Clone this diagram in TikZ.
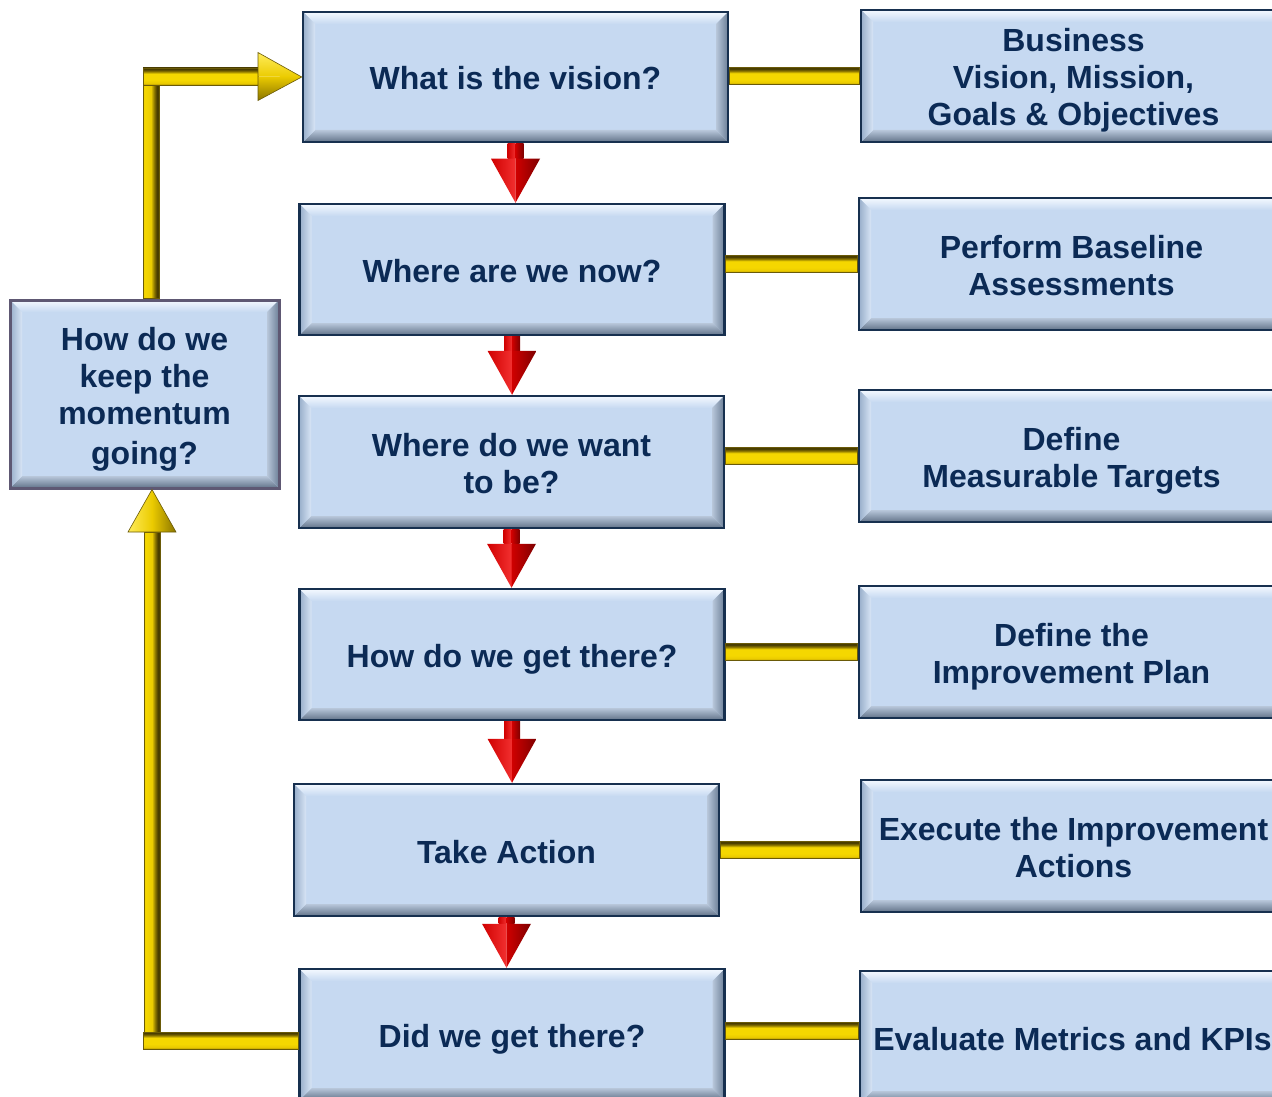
\documentclass[tikz,border=0pt]{standalone}
\usepackage{fontspec}
\setmainfont{Liberation Sans}
\usetikzlibrary{calc}

\definecolor{boxfill}{HTML}{C6D9F1}
\definecolor{boxline}{HTML}{17304F}
\definecolor{loopline}{HTML}{5E5873}
\definecolor{txt}{HTML}{0B2A55}
\definecolor{bvhi}{HTML}{F4F9FF}
\definecolor{bvlo}{HTML}{627389}
\definecolor{bvleft}{HTML}{98AECA}
\definecolor{bvright}{HTML}{6C7F97}
\definecolor{goldhi}{HTML}{FFEC5A}
\definecolor{goldmid}{HTML}{EBCB00}
\definecolor{goldbright}{HTML}{F5D700}
\definecolor{goldlow}{HTML}{B89A00}
\definecolor{golddk}{HTML}{8A7400}
\definecolor{goldshadow}{HTML}{4A3D00}
\definecolor{goldedge}{HTML}{6A5A08}
\definecolor{redhi}{HTML}{F23030}
\definecolor{redmid}{HTML}{D00000}
\definecolor{reddk}{HTML}{7E0000}

% bar shadings: a dark top edge over a bright face, and a bright face with a dark right edge
\pgfdeclareverticalshading{goldbarflat}{100bp}{%
  color(0bp)=(goldlow); color(25bp)=(goldlow); color(31bp)=(goldmid);
  color(40bp)=(goldbright); color(58bp)=(goldbright); color(65bp)=(golddk);
  color(71bp)=(goldshadow); color(100bp)=(goldshadow)}
\pgfdeclarehorizontalshading{goldbarupright}{100bp}{%
  color(0bp)=(goldmid); color(25bp)=(goldmid); color(30bp)=(goldbright);
  color(50bp)=(goldmid); color(60bp)=(golddk); color(68bp)=(goldshadow);
  color(100bp)=(goldshadow)}

\newcommand\hiStrut{\rule{0pt}{33pt}}
\newcommand\loStrut{\rule[-7pt]{0pt}{7pt}}

\tikzset{
  bevelbox/.style={draw=boxline, line width=2.5pt, fill=boxfill, text=txt,
    font=\bfseries\fontsize{32}{37}\selectfont, align=center, inner sep=0pt,
    minimum width=425pt, minimum height=131pt,
    path picture={
      \coordinate (nw) at (path picture bounding box.north west);
      \coordinate (ne) at (path picture bounding box.north east);
      \coordinate (sw) at (path picture bounding box.south west);
      \coordinate (se) at (path picture bounding box.south east);
      \shade[top color=bvhi, bottom color=boxfill]
        (nw) -- (ne) -- ([shift={(-12pt,-12pt)}]ne) -- ([shift={(12pt,-12pt)}]nw) -- cycle;
      \shade[top color=boxfill!80!gray, bottom color=bvlo]
        (sw) -- (se) -- ([shift={(-12pt,12pt)}]se) -- ([shift={(12pt,12pt)}]sw) -- cycle;
      \shade[left color=bvleft, right color=boxfill!70!white]
        (nw) -- ([shift={(12pt,-12pt)}]nw) -- ([shift={(12pt,12pt)}]sw) -- (sw) -- cycle;
      \shade[left color=boxfill!80!gray, right color=bvright]
        (ne) -- ([shift={(-12pt,-12pt)}]ne) -- ([shift={(-12pt,12pt)}]se) -- (se) -- cycle;
    }},
  loopbox/.style={bevelbox, draw=loopline, line width=3pt,
    minimum width=269pt, minimum height=188pt},
  goldh/.style={shading=goldbarflat, draw=goldedge, line width=0.6pt},
  goldv/.style={shading=goldbarupright, draw=goldedge, line width=0.6pt},
}

% red downward pointer from the south side of #1 to the north side of #2
\newcommand\redpointer[2]{%
  \coordinate (#1-pa) at (#1.south);
  \coordinate (#1-pb) at (#1.south |- #2.north);
  \shade[left color=redmid, right color=redhi]
    ([xshift=-8pt]#1-pa) rectangle ([yshift=44pt]#1-pb);
  \shade[left color=redmid, right color=reddk]
    (#1-pa) rectangle ([shift={(8pt,44pt)}]#1-pb);
  \shade[left color=redmid, right color=redhi]
    ([shift={(-24.5pt,44pt)}]#1-pb) -- ([yshift=44pt]#1-pb) -- (#1-pb) -- cycle;
  \shade[left color=redmid, right color=reddk]
    ([yshift=44pt]#1-pb) -- ([shift={(24.5pt,44pt)}]#1-pb) -- (#1-pb) -- cycle;
}

\begin{document}
\begin{tikzpicture}[x=1pt, y=-1pt]
\useasboundingbox (0,0) rectangle (1272,1097);
\clip (0,0) rectangle (1272,1097);

% question boxes
\node[bevelbox, minimum height=130pt] (B1) at (515.5,77) {\hiStrut What is the vision?\loStrut};
\node[bevelbox] (B2) at (512,269.5) {\hiStrut Where are we now?\loStrut};
\node[bevelbox, minimum height=132pt] (B3) at (511.5,462) {\hiStrut Where do we want\\to be?\loStrut};
\node[bevelbox] (B4) at (512,654.5) {\hiStrut How do we get there?\loStrut};
\node[bevelbox, minimum height=132pt] (B5) at (506.5,850) {\hiStrut Take Action\loStrut};
\node[bevelbox] (B6) at (512,1034.5) {\hiStrut Did we get there?\loStrut};

% activity boxes
\node[bevelbox, minimum height=132pt] (R1) at (1073.5,76) {\hiStrut Business\\Vision, Mission,\\Goals \& Objectives\loStrut};
\node[bevelbox, minimum height=132pt] (R2) at (1071.5,264) {\hiStrut Perform Baseline\\Assessments\loStrut};
\node[bevelbox, minimum height=132pt] (R3) at (1071.5,456) {\hiStrut Define\\Measurable Targets\loStrut};
\node[bevelbox, minimum height=132pt] (R4) at (1071.5,652) {\hiStrut Define the\\Improvement Plan\loStrut};
\node[bevelbox, minimum height=132pt] (R5) at (1073.5,846) {\hiStrut Execute the Improvement\\Actions\loStrut};
\node[bevelbox, minimum height=132pt] (R6) at (1072.5,1037) {\hiStrut Evaluate Metrics and KPIs\loStrut};

% loop box
\node[loopbox] (L) at (144.5,394) {\hiStrut How do we\\keep the\\momentum\\[3pt]going?\loStrut};

% links between questions and activities
\shadedraw[goldh] (B1.east |- 0,67.5) rectangle (R1.west |- 0,84.5);
\shadedraw[goldh] (B2.east |- 0,255.5) rectangle (R2.west |- 0,272.5);
\shadedraw[goldh] (B3.east |- 0,447.5) rectangle (R3.west |- 0,464.5);
\shadedraw[goldh] (B4.east |- 0,643.5) rectangle (R4.west |- 0,660.5);
\shadedraw[goldh] (B5.east |- 0,841.5) rectangle (R5.west |- 0,858.5);
\shadedraw[goldh] (B6.east |- 0,1022) rectangle (R6.west |- 0,1039);

% flow between the questions
\redpointer{B1}{B2}
\redpointer{B2}{B3}
\redpointer{B3}{B4}
\redpointer{B4}{B5}
\redpointer{B5}{B6}

% feedback loop: bottom question to loop box
\shadedraw[goldv] (144,532) rectangle (160,1049);
\shadedraw[goldh] (143,1032) rectangle (B6.west |- 0,1049);
\shade[left color=goldhi, right color=goldmid] (128,532) -- (152,0 |- L.south) -- (152,532) -- cycle;
\shade[left color=goldmid, right color=golddk] (152,532) -- (152,0 |- L.south) -- (176,532) -- cycle;
\draw[goldedge, line width=0.6pt] (128,532) -- (152,0 |- L.south) -- (176,532) -- cycle;

% feedback loop: loop box back to the vision
\shadedraw[goldv] (143,68) rectangle (159,0 |- L.north);
\shadedraw[goldh] (143,68) rectangle (258,85);
\shade[top color=goldhi, bottom color=goldmid] (258,52.5) -- (B1.west) -- (258,76.5) -- cycle;
\shade[top color=goldmid, bottom color=golddk] (258,76.5) -- (B1.west) -- (258,100.5) -- cycle;
\draw[goldedge, line width=0.6pt] (258,52.5) -- (B1.west) -- (258,100.5) -- cycle;
\end{tikzpicture}
\end{document}
